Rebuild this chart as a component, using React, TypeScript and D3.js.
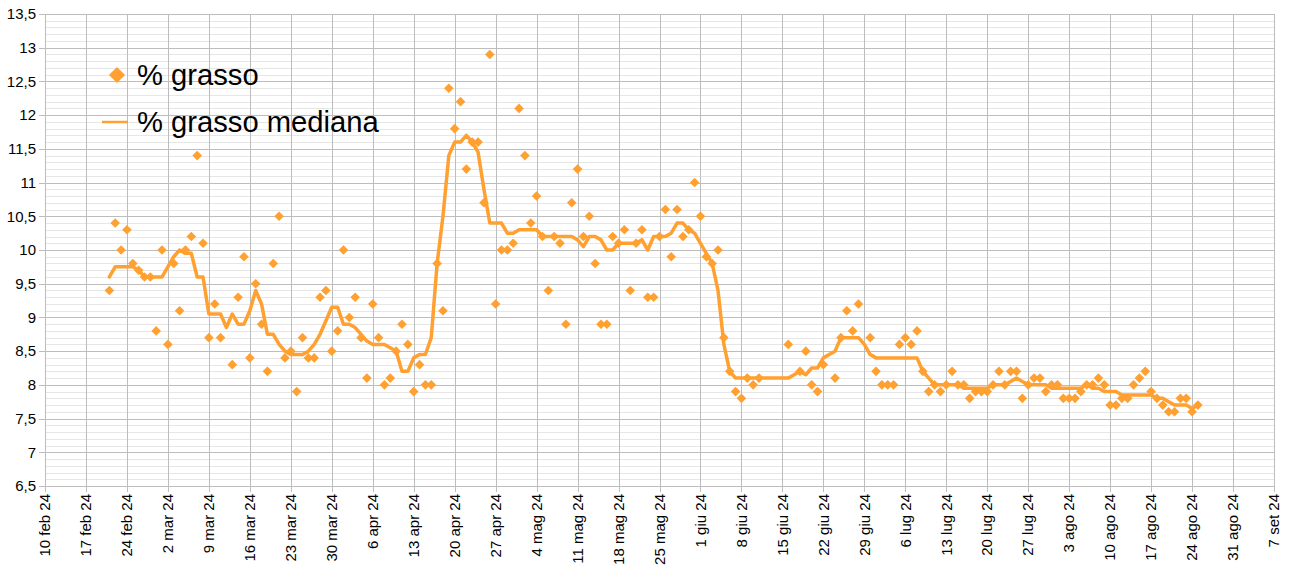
import { useEffect, useRef } from 'react';
import * as d3 from 'd3';

const monthsIt = ['gen', 'feb', 'mar', 'apr', 'mag', 'giu', 'lug', 'ago', 'set', 'ott', 'nov', 'dic'];

const xTickLabels = [
  '10 feb 24', '17 feb 24', '24 feb 24', '2 mar 24', '9 mar 24', '16 mar 24', '23 mar 24',
  '30 mar 24', '6 apr 24', '13 apr 24', '20 apr 24', '27 apr 24', '4 mag 24', '11 mag 24',
  '18 mag 24', '25 mag 24', '1 giu 24', '8 giu 24', '15 giu 24', '22 giu 24', '29 giu 24',
  '6 lug 24', '13 lug 24', '20 lug 24', '27 lug 24', '3 ago 24', '10 ago 24', '17 ago 24',
  '24 ago 24', '31 ago 24', '7 set 24',
];

const yTickLabels = [
  '6,5', '7', '7,5', '8', '8,5', '9', '9,5', '10', '10,5', '11', '11,5', '12', '12,5', '13', '13,5',
];

// % grasso, daily readings (MM-DD, 2024)
const grassoDates = [
  '02-21', '02-22', '02-23', '02-24', '02-25', '02-26', '02-27', '02-28', '02-29',
  '03-01', '03-02', '03-03', '03-04', '03-05', '03-06', '03-07', '03-08', '03-09', '03-10',
  '03-11', '03-13', '03-14', '03-15', '03-16', '03-17', '03-18', '03-19', '03-20', '03-21',
  '03-22', '03-23', '03-24', '03-25', '03-26', '03-27', '03-28', '03-29', '03-30', '03-31',
  '04-01', '04-02', '04-03', '04-04', '04-05', '04-06', '04-07', '04-08', '04-09', '04-10',
  '04-11', '04-12', '04-13', '04-14', '04-15', '04-16', '04-17', '04-18', '04-19', '04-20',
  '04-21', '04-22', '04-23', '04-24', '04-25', '04-26', '04-27', '04-28', '04-29', '04-30',
  '05-01', '05-02', '05-03', '05-04', '05-05', '05-06', '05-07', '05-08', '05-09', '05-10',
  '05-11', '05-12', '05-13', '05-14', '05-15', '05-16', '05-17', '05-18', '05-19', '05-20',
  '05-21', '05-22', '05-23', '05-24', '05-25', '05-26', '05-27', '05-28', '05-29', '05-30',
  '05-31', '06-01', '06-02', '06-03', '06-04', '06-05', '06-06', '06-07', '06-08', '06-09',
  '06-10', '06-11', '06-16', '06-18', '06-19', '06-20', '06-21', '06-22', '06-24', '06-25',
  '06-26', '06-27', '06-28', '06-30', '07-01', '07-02', '07-03', '07-04', '07-05', '07-06',
  '07-07', '07-08', '07-09', '07-10', '07-11', '07-12', '07-13', '07-14', '07-15', '07-16',
  '07-17', '07-18', '07-19', '07-20', '07-21', '07-22', '07-23', '07-24', '07-25', '07-26',
  '07-27', '07-28', '07-29', '07-30', '07-31', '08-01', '08-02', '08-03', '08-04', '08-05',
  '08-06', '08-07', '08-08', '08-09', '08-10', '08-11', '08-12', '08-13', '08-14', '08-15',
  '08-16', '08-17', '08-18', '08-19', '08-20', '08-21', '08-22', '08-23', '08-24', '08-25',
];

const grassoValues = [
  9.4, 10.4, 10.0, 10.3, 9.8, 9.7, 9.6, 9.6, 8.8,
  10.0, 8.6, 9.8, 9.1, 10.0, 10.2, 11.4, 10.1, 8.7, 9.2,
  8.7, 8.3, 9.3, 9.9, 8.4, 9.5, 8.9, 8.2, 9.8, 10.5,
  8.4, 8.5, 7.9, 8.7, 8.4, 8.4, 9.3, 9.4, 8.5, 8.8,
  10.0, 9.0, 9.3, 8.7, 8.1, 9.2, 8.7, 8.0, 8.1, 8.5,
  8.9, 8.6, 7.9, 8.3, 8.0, 8.0, 9.8, 9.1, 12.4, 11.8,
  12.2, 11.2, 11.6, 11.6, 10.7, 12.9, 9.2, 10.0, 10.0, 10.1,
  12.1, 11.4, 10.4, 10.8, 10.2, 9.4, 10.2, 10.1, 8.9, 10.7,
  11.2, 10.2, 10.5, 9.8, 8.9, 8.9, 10.2, 10.1, 10.3, 9.4,
  10.1, 10.3, 9.3, 9.3, 10.2, 10.6, 9.9, 10.6, 10.2, 10.3,
  11.0, 10.5, 9.9, 9.8, 10.0, 8.7, 8.2, 7.9, 7.8, 8.1,
  8.0, 8.1, 8.6, 8.2, 8.5, 8.0, 7.9, 8.3, 8.1, 8.7,
  9.1, 8.8, 9.2, 8.7, 8.2, 8.0, 8.0, 8.0, 8.6, 8.7,
  8.6, 8.8, 8.2, 7.9, 8.0, 7.9, 8.0, 8.2, 8.0, 8.0,
  7.8, 7.9, 7.9, 7.9, 8.0, 8.2, 8.0, 8.2, 8.2, 7.8,
  8.0, 8.1, 8.1, 7.9, 8.0, 8.0, 7.8, 7.8, 7.8, 7.9,
  8.0, 8.0, 8.1, 8.0, 7.7, 7.7, 7.8, 7.8, 8.0, 8.1,
  8.2, 7.9, 7.8, 7.7, 7.6, 7.6, 7.8, 7.8, 7.6, 7.7,
];

// % grasso mediana, read at the corners of the line
const medianaDates = [
  '02-21', '02-22', '02-25', '02-26', '02-27', '03-01', '03-02', '03-03', '03-04', '03-05',
  '03-06', '03-07', '03-08', '03-09', '03-11', '03-12', '03-13', '03-14', '03-15', '03-16',
  '03-17', '03-18', '03-19', '03-20', '03-21', '03-22', '03-23', '03-25', '03-26', '03-27',
  '03-28', '03-29', '03-30', '03-31', '04-01', '04-02', '04-03', '04-04', '04-05', '04-06',
  '04-08', '04-09', '04-10', '04-11', '04-12', '04-13', '04-14', '04-15', '04-16', '04-17',
  '04-18', '04-19', '04-20', '04-21', '04-22', '04-23', '04-24', '04-25', '04-26', '04-28',
  '04-29', '04-30', '05-01', '05-04', '05-05', '05-10', '05-11', '05-12', '05-13', '05-14',
  '05-15', '05-16', '05-17', '05-18', '05-21', '05-22', '05-23', '05-24', '05-26', '05-27',
  '05-28', '05-29', '05-30', '05-31', '06-01', '06-02', '06-03', '06-04', '06-05', '06-06',
  '06-07', '06-16', '06-17', '06-18', '06-19', '06-20', '06-21', '06-22', '06-23', '06-24',
  '06-25', '06-28', '06-29', '06-30', '07-01', '07-08', '07-09', '07-10', '07-11', '07-15',
  '07-16', '07-20', '07-21', '07-23', '07-24', '07-25', '07-26', '07-27', '07-30', '07-31',
  '08-05', '08-06', '08-07', '08-08', '08-09', '08-11', '08-12', '08-17', '08-18', '08-19',
  '08-20', '08-21', '08-23', '08-24', '08-25',
];

const medianaValues = [
  9.6, 9.75, 9.75, 9.7, 9.6, 9.6, 9.75, 9.9, 10.0, 9.95,
  9.95, 9.6, 9.6, 9.05, 9.05, 8.85, 9.05, 8.9, 8.9, 9.1,
  9.4, 9.2, 8.75, 8.75, 8.6, 8.5, 8.45, 8.45, 8.5, 8.6,
  8.75, 8.95, 9.15, 9.15, 8.9, 8.9, 8.85, 8.75, 8.65, 8.6,
  8.6, 8.55, 8.5, 8.2, 8.2, 8.4, 8.45, 8.45, 8.7, 9.8,
  10.5, 11.4, 11.6, 11.6, 11.7, 11.6, 11.45, 10.9, 10.4, 10.4,
  10.25, 10.25, 10.3, 10.3, 10.2, 10.2, 10.15, 10.05, 10.2, 10.2,
  10.15, 10.0, 10.0, 10.1, 10.1, 10.15, 10.0, 10.2, 10.2, 10.25,
  10.4, 10.4, 10.3, 10.25, 10.1, 9.95, 9.8, 9.4, 8.6, 8.2,
  8.1, 8.1, 8.15, 8.2, 8.15, 8.25, 8.25, 8.4, 8.45, 8.5,
  8.7, 8.7, 8.6, 8.45, 8.4, 8.4, 8.2, 8.1, 8.0, 8.0,
  7.95, 7.95, 8.0, 8.0, 8.05, 8.1, 8.05, 8.0, 8.0, 7.95,
  7.95, 8.0, 7.95, 7.95, 7.9, 7.9, 7.85, 7.85, 7.8, 7.8,
  7.75, 7.7, 7.7, 7.65, 7.7,
];

const seriesNames = ['% grasso', '% grasso mediana'];

const parseDay = (s: string) => {
  const [m, d] = s.split('-').map(Number);
  return new Date(Date.UTC(2024, m - 1, d));
};

const parseTick = (s: string) => {
  const [d, mon, yy] = s.split(' ');
  return new Date(Date.UTC(2000 + Number(yy), monthsIt.indexOf(mon), Number(d)));
};

export default function App() {
  const chartRef = useRef<SVGSVGElement>(null);

  useEffect(() => {
    if (!chartRef.current) return;

    d3.select(chartRef.current).selectAll('*').remove();

    const width = 1289;
    const height = 568;
    const margin = { top: 14, right: 15, bottom: 82, left: 45 };
    const chartWidth = width - margin.left - margin.right;
    const chartHeight = height - margin.top - margin.bottom;
    const orange = '#ffa030';
    const font = '"Liberation Sans", Arial, sans-serif';

    const svg = d3.select(chartRef.current)
      .attr('width', width)
      .attr('height', height)
      .append('g')
      .attr('transform', `translate(${margin.left},${margin.top})`);

    const xTicks = xTickLabels.map(parseTick);
    const yTicks = yTickLabels.map(s => Number(s.replace(',', '.')));

    const x = d3.scaleUtc()
      .domain([xTicks[0], xTicks[xTicks.length - 1]])
      .range([0, chartWidth]);

    const y = d3.scaleLinear()
      .domain([yTicks[0], yTicks[yTicks.length - 1]])
      .range([chartHeight, 0]);

    // minor horizontal grid (0,1 steps)
    svg.append('g')
      .selectAll('line')
      .data(y.ticks(70).filter(v => !yTicks.some(t => Math.abs(t - v) < 1e-6)))
      .join('line')
      .attr('x1', 0)
      .attr('x2', chartWidth)
      .attr('y1', d => Math.round(y(d)) + 0.5)
      .attr('y2', d => Math.round(y(d)) + 0.5)
      .attr('stroke', '#e6e6e6')
      .attr('stroke-width', 1);

    // major horizontal grid + y labels
    const yAxis = svg.append('g');
    yAxis.selectAll('line')
      .data(yTicks)
      .join('line')
      .attr('x1', -6)
      .attr('x2', chartWidth)
      .attr('y1', d => Math.round(y(d)) + 0.5)
      .attr('y2', d => Math.round(y(d)) + 0.5)
      .attr('stroke', '#bdbdbd')
      .attr('stroke-width', 1);
    yAxis.selectAll('text')
      .data(yTicks)
      .join('text')
      .attr('x', -9)
      .attr('y', d => y(d))
      .attr('dy', '0.35em')
      .attr('text-anchor', 'end')
      .style('font-family', font)
      .style('font-size', '15px')
      .style('fill', '#000')
      .text((d, i) => yTickLabels[i]);

    // vertical grid + rotated x labels
    const xAxis = svg.append('g');
    xAxis.selectAll('line')
      .data(xTicks)
      .join('line')
      .attr('x1', d => Math.round(x(d)) + 0.5)
      .attr('x2', d => Math.round(x(d)) + 0.5)
      .attr('y1', 0)
      .attr('y2', chartHeight + 6)
      .attr('stroke', '#bdbdbd')
      .attr('stroke-width', 1);
    xAxis.selectAll('text')
      .data(xTicks)
      .join('text')
      .attr('transform', d => `translate(${x(d)},${chartHeight + 8})rotate(-90)`)
      .attr('dy', '0.35em')
      .attr('text-anchor', 'end')
      .style('font-family', font)
      .style('font-size', '15px')
      .style('fill', '#000')
      .text((d, i) => xTickLabels[i]);

    // median line
    const medianaData = medianaDates.map((d, i) => ({ date: parseDay(d), value: medianaValues[i] }));
    const line = d3.line<{ date: Date; value: number }>()
      .x(d => x(d.date))
      .y(d => y(d.value));
    svg.append('path')
      .datum(medianaData)
      .attr('d', line)
      .attr('fill', 'none')
      .attr('stroke', orange)
      .attr('stroke-width', 3.5)
      .attr('stroke-linejoin', 'round')
      .attr('stroke-linecap', 'round');

    // scatter diamonds
    const grassoData = grassoDates.map((d, i) => ({ date: parseDay(d), value: grassoValues[i] }));
    const diamond = d3.symbol(d3.symbolSquare, 46)();
    svg.selectAll('.pt')
      .data(grassoData)
      .join('path')
      .attr('class', 'pt')
      .attr('d', diamond)
      .attr('transform', d => `translate(${x(d.date)},${y(d.value)})rotate(45)`)
      .attr('fill', orange);

    // legend
    const legend = svg.append('g').attr('transform', `translate(${117 - margin.left},${75 - margin.top})`);
    legend.append('path')
      .attr('d', d3.symbol(d3.symbolSquare, 130)())
      .attr('transform', 'rotate(45)')
      .attr('fill', orange);
    legend.append('text')
      .attr('x', 20)
      .attr('y', 0)
      .attr('dy', '0.35em')
      .style('font-family', font)
      .style('font-size', '29.2px')
      .style('fill', '#000')
      .text(seriesNames[0]);
    legend.append('line')
      .attr('x1', -15)
      .attr('x2', 11)
      .attr('y1', 47)
      .attr('y2', 47)
      .attr('stroke', orange)
      .attr('stroke-width', 2.5);
    legend.append('text')
      .attr('x', 20)
      .attr('y', 47)
      .attr('dy', '0.35em')
      .style('font-family', font)
      .style('font-size', '29.2px')
      .style('fill', '#000')
      .text(seriesNames[1]);
  }, []);

  return (
    <div style={{ position: 'absolute', left: 0, top: 0, background: '#fff' }}>
      <svg ref={chartRef} style={{ display: 'block' }}></svg>
    </div>
  );
}
